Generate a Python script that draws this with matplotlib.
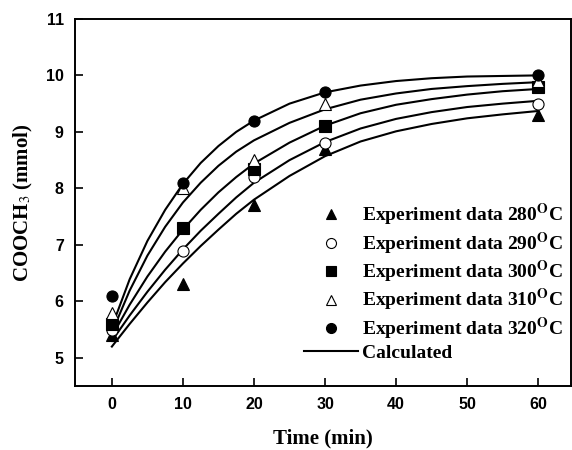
import matplotlib
matplotlib.use("Agg")
import matplotlib.pyplot as plt

# experiment points (min, mmol)
time_pts = [0, 10, 20, 30, 60]
exp_280 = [5.4, 6.3, 7.7, 8.7, 9.3]
exp_290 = [5.5, 6.9, 8.2, 8.8, 9.5]
exp_300 = [5.6, 7.3, 8.35, 9.1, 9.8]
exp_310 = [5.8, 8.0, 8.5, 9.5, 9.9]
exp_320 = [6.1, 8.1, 9.2, 9.7, 10.0]

# calculated curves
time_calc = [0, 2.5, 5, 7.5, 10, 12.5, 15, 17.5, 20, 25, 30, 35, 40, 45, 50, 55, 60]
calc_280 = [5.20, 5.60, 5.98, 6.34, 6.67, 6.98, 7.27, 7.55, 7.80, 8.22, 8.57, 8.83, 9.01, 9.14, 9.24, 9.31, 9.37]
calc_290 = [5.30, 5.75, 6.17, 6.56, 6.92, 7.25, 7.55, 7.84, 8.10, 8.50, 8.82, 9.06, 9.23, 9.35, 9.44, 9.50, 9.55]
calc_300 = [5.38, 5.94, 6.44, 6.88, 7.27, 7.62, 7.93, 8.20, 8.44, 8.81, 9.11, 9.33, 9.48, 9.58, 9.66, 9.72, 9.76]
calc_310 = [5.45, 6.19, 6.81, 7.32, 7.75, 8.10, 8.40, 8.65, 8.85, 9.16, 9.40, 9.57, 9.68, 9.76, 9.81, 9.85, 9.88]
calc_320 = [5.55, 6.39, 7.07, 7.62, 8.08, 8.45, 8.75, 9.00, 9.20, 9.50, 9.70, 9.82, 9.90, 9.95, 9.98, 9.99, 10.00]

temps = ["280", "290", "300", "310", "320"]
x_ticks = [0, 10, 20, 30, 40, 50, 60]
y_ticks = [5, 6, 7, 8, 9, 10, 11]

plt.rcParams["mathtext.fontset"] = "stix"
serif_bold = {"family": "Liberation Serif", "weight": "bold"}

fig = plt.figure(figsize=(5.72, 4.5), dpi=100)
ax = fig.add_axes([0.131, 0.142, 0.867, 0.816])

for y in [calc_280, calc_290, calc_300, calc_310, calc_320]:
    ax.plot(time_calc, y, color="black", lw=1.5, zorder=2)

styles = [
    (exp_280, "^", "black"),
    (exp_290, "o", "white"),
    (exp_300, "s", "black"),
    (exp_310, "^", "white"),
    (exp_320, "o", "black"),
]
handles = []
labels = []
for (vals, mk, fc), t in zip(styles, temps):
    h, = ax.plot(time_pts, vals, ls="none", marker=mk, ms=8, mfc=fc,
                 mec="black", mew=0.8, zorder=3)
    handles.append(h)
    labels.append(f"Experiment data {t}$^{{\\mathbf{{O}}}}$C")

line_h, = ax.plot([], [], color="black", lw=1.5)
handles.append(line_h)
labels.append("Calculated")

ax.set_xlim(-5.2, 64.6)
ax.set_ylim(4.5, 11)
ax.set_xticks(x_ticks)
ax.set_yticks(y_ticks)
ax.tick_params(direction="in", length=6, width=1.2, labelsize=11.5, pad=8)
for lab in ax.get_xticklabels() + ax.get_yticklabels():
    lab.set_family("Liberation Sans")
    lab.set_weight("bold")
for s in ax.spines.values():
    s.set_linewidth(1.4)

ax.set_xlabel("Time (min)", fontdict=serif_bold, fontsize=15, labelpad=12)
ax.set_ylabel("COOCH$_3$ (mmol)", fontdict=serif_bold, fontsize=15, labelpad=8)

leg = ax.legend(handles, labels, loc="lower right", bbox_to_anchor=(1.0, 0.045),
                frameon=False, handlelength=2.8, handletextpad=0.2,
                labelspacing=0.12, borderaxespad=0.0, markerscale=0.9,
                prop={"family": "Liberation Serif", "weight": "bold", "size": 14})

fig.savefig("out.png", dpi=100)
